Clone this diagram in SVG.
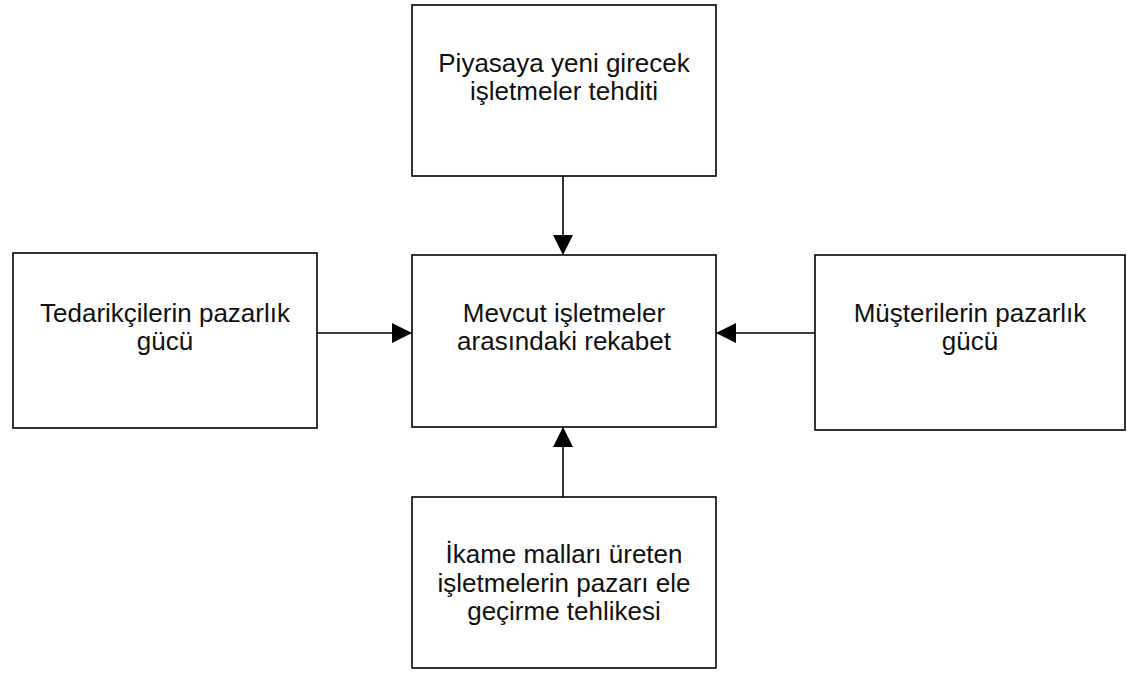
<svg xmlns="http://www.w3.org/2000/svg" width="1127" height="674" viewBox="0 0 1127 674">
  <style>
    .box { fill: #ffffff; stroke: #000000; stroke-width: 1.6; }
    .label { font-family: "Liberation Sans", Arial, sans-serif; font-size: 26px; fill: #111111; text-anchor: middle; }
    .link { stroke: #000000; stroke-width: 1.6; fill: none; marker-end: url(#head); }
  </style>
  <defs>
    <marker id="head" viewBox="0 0 20 20" refX="20" refY="10" markerWidth="20" markerHeight="20" markerUnits="userSpaceOnUse" orient="auto">
      <path d="M0,0 L20,10 L0,20 Z" fill="#000000"/>
    </marker>
  </defs>
  <rect width="1127" height="674" fill="#ffffff"/>

  <g id="connectors">
    <line class="link" x1="563" y1="176" x2="563" y2="255"/>
    <line class="link" x1="317" y1="333" x2="412" y2="333"/>
    <line class="link" x1="815" y1="333" x2="716" y2="333"/>
    <line class="link" x1="563" y1="497" x2="563" y2="427"/>
  </g>

  <g id="new-entrants">
    <rect class="box" x="412" y="5" width="304" height="171"/>
    <text class="label" x="564" y="72">Piyasaya yeni girecek</text>
    <text class="label" x="564" y="100">işletmeler tehditi</text>
  </g>

  <g id="rivalry">
    <rect class="box" x="412" y="255" width="304" height="172"/>
    <text class="label" x="564" y="322">Mevcut işletmeler</text>
    <text class="label" x="564" y="350">arasındaki rekabet</text>
  </g>

  <g id="suppliers">
    <rect class="box" x="13" y="253" width="304" height="175"/>
    <text class="label" x="165" y="322">Tedarikçilerin pazarlık</text>
    <text class="label" x="165" y="350">gücü</text>
  </g>

  <g id="buyers">
    <rect class="box" x="815" y="255" width="310" height="175"/>
    <text class="label" x="970" y="322">Müşterilerin pazarlık</text>
    <text class="label" x="970" y="350">gücü</text>
  </g>

  <g id="substitutes">
    <rect class="box" x="412" y="497" width="304" height="171"/>
    <text class="label" x="564" y="563">İkame malları üreten</text>
    <text class="label" x="564" y="592">işletmelerin pazarı ele</text>
    <text class="label" x="564" y="620">geçirme tehlikesi</text>
  </g>
</svg>
